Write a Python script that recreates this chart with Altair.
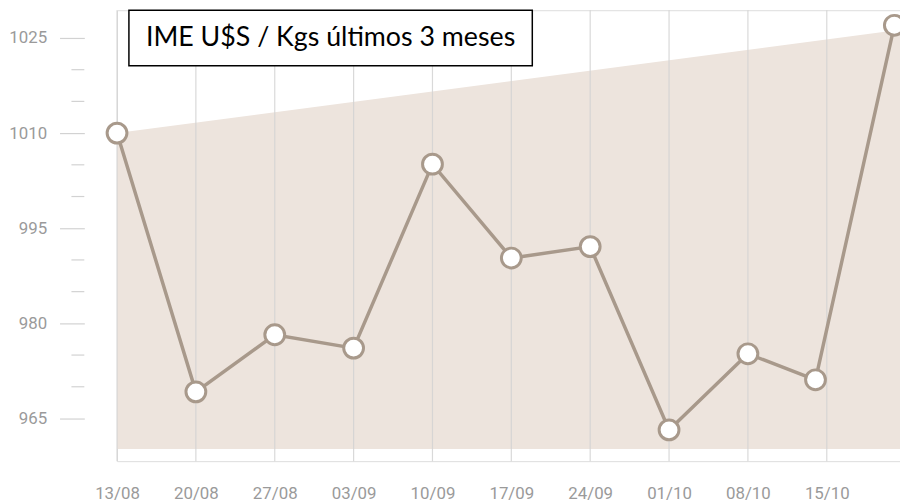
import json
import altair as alt
import pandas as pd

# ---- data ----
tick_labels = ["13/08", "20/08", "27/08", "03/09", "10/09", "17/09", "24/09", "01/10", "08/10", "15/10"]
tick_days = [0, 7, 14, 21, 28, 35, 42, 49, 56, 63]
point_days = [0, 7, 14, 21, 28, 35, 42, 49, 56, 62, 69]
point_values = [1010.0, 969.2, 978.2, 976.1, 1005.1, 990.3, 992.1, 963.2, 975.2, 971.1, 1027.0]
band_days = [0, 69.5]
band_top = [1010.0, 1026.3]
band_base = [960.2, 960.2]
major_ticks = [965, 980, 995, 1010, 1025]
minor_ticks = [970, 975, 985, 990, 1000, 1005, 1015, 1020]
title_text = "IME U$S / Kgs últimos 3 meses"

LINE = "#a8998b"
AREA = "#ede4dd"
GRID = "#d2d2d2"
LABEL = "#9a9a9a"

pts = pd.DataFrame({"day": point_days, "value": point_values})
band = pd.DataFrame({"day": band_days, "top": band_top, "base": band_base})
grid = pd.DataFrame({"day": tick_days})
minor = pd.DataFrame({"v": minor_ticks})
one = pd.DataFrame({"a": [0]})

xscale = alt.Scale(domain=[0, 69.5], nice=False, zero=False)
yscale = alt.Scale(domain=[958.27, 1029.38], nice=False, zero=False)

label_expr = json.dumps(tick_labels) + "[round(datum.value / 7)]"

xaxis = alt.Axis(values=tick_days, labelExpr=label_expr, grid=False, ticks=False, domain=False,
                 labelPadding=25, labelFont="Roboto", labelFontSize=17, labelColor=LABEL,
                 title=None, labelFlush=False)
yaxis = alt.Axis(values=major_ticks, format="d", grid=False, domain=False, tickSize=25,
                 tickColor=GRID, tickWidth=1.2, offset=33, labelPadding=13, labelFont="Roboto",
                 labelFontSize=17, labelColor=LABEL, title=None)

area = alt.Chart(band).mark_area(color=AREA, opacity=1).encode(
    x=alt.X("day:Q", scale=xscale, axis=xaxis),
    y=alt.Y("top:Q", scale=yscale, axis=yaxis),
    y2="base:Q",
)

gridlines = alt.Chart(grid).mark_rule(color=GRID, strokeWidth=1.2, opacity=0.85).encode(
    x=alt.X("day:Q", scale=xscale),
)

minor_rules = alt.Chart(minor).mark_rule(color=GRID, strokeWidth=1.2).encode(
    y=alt.Y("v:Q", scale=yscale),
    x=alt.value(-46),
    x2=alt.value(-33),
)

line = alt.Chart(pts).mark_line(color=LINE, strokeWidth=3.5).encode(
    x=alt.X("day:Q", scale=xscale),
    y=alt.Y("value:Q", scale=yscale),
)

points = alt.Chart(pts).mark_point(filled=True, fill="white", stroke=LINE, strokeWidth=3,
                                   size=400, opacity=1, fillOpacity=1, shape="circle").encode(
    x=alt.X("day:Q", scale=xscale),
    y=alt.Y("value:Q", scale=yscale),
)

box = alt.Chart(one).mark_rect(fill="white", stroke="black", strokeWidth=1.5).encode(
    x=alt.value(12), x2=alt.value(419), y=alt.value(0), y2=alt.value(56),
)

title = alt.Chart(one).mark_text(font="Lato", fontSize=27, color="black", align="center",
                                 baseline="middle").encode(
    x=alt.value(215.5), y=alt.value(28), text=alt.value(title_text),
)

chart = alt.layer(area, gridlines, minor_rules, line, points, box, title).properties(
    width=790, height=455,
    autosize=alt.AutoSizeParams(type="none"),
    padding={"left": 110, "top": 0, "right": 0, "bottom": 41},
).configure_view(stroke=None).configure(background="white")

chart.save("out.html", embed_options={"renderer": "svg", "actions": False})
